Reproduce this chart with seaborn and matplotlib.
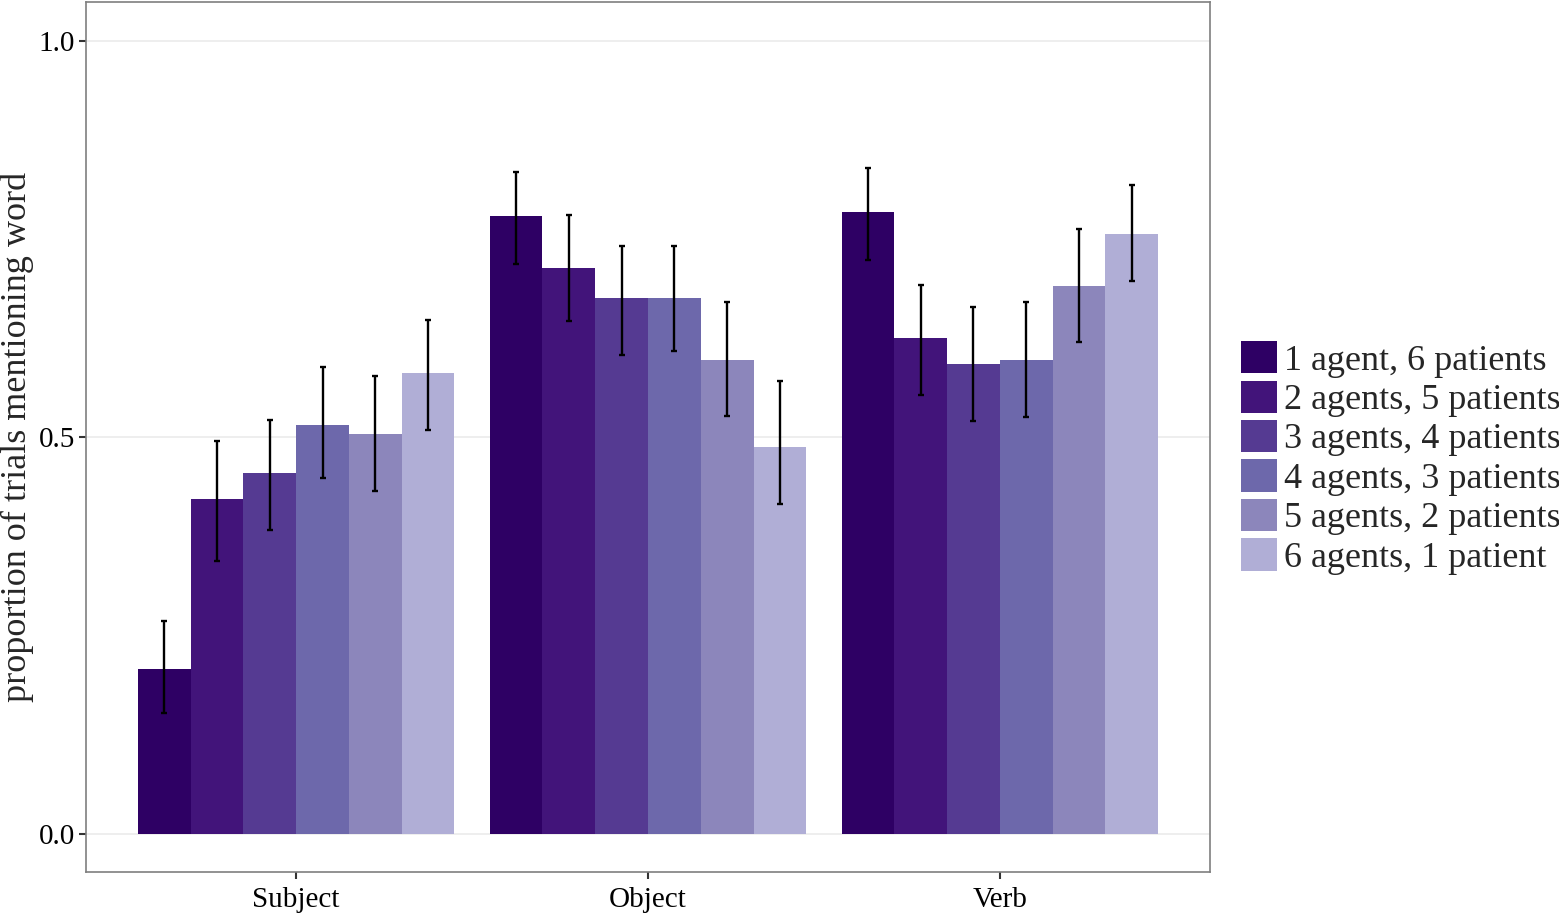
import numpy as np
import pandas as pd
import matplotlib
matplotlib.use('Agg')
import matplotlib.pyplot as plt
import seaborn as sns

# Data
words = ['Subject', 'Object', 'Verb']
conditions = ['1 agent, 6 patients', '2 agents, 5 patients',
              '3 agents, 4 patients', '4 agents, 3 patients',
              '5 agents, 2 patients', '6 agents, 1 patient']
colors = ['#2e0064', '#42147a', '#553a92', '#6d68ab', '#8c86bb', '#b0aed6']

subject_mean = [0.208, 0.422, 0.455, 0.516, 0.504, 0.581]
subject_lo = [0.153, 0.344, 0.383, 0.449, 0.433, 0.509]
subject_hi = [0.269, 0.496, 0.522, 0.589, 0.578, 0.648]

object_mean = [0.779, 0.714, 0.676, 0.676, 0.598, 0.488]
object_lo = [0.719, 0.647, 0.604, 0.609, 0.527, 0.416]
object_hi = [0.835, 0.781, 0.741, 0.741, 0.671, 0.571]

verb_mean = [0.784, 0.625, 0.593, 0.598, 0.691, 0.757]
verb_lo = [0.724, 0.554, 0.521, 0.526, 0.620, 0.697]
verb_hi = [0.840, 0.692, 0.665, 0.671, 0.763, 0.818]

rows = []
for w, m, lo, hi in [('Subject', subject_mean, subject_lo, subject_hi),
                     ('Object', object_mean, object_lo, object_hi),
                     ('Verb', verb_mean, verb_lo, verb_hi)]:
    for c, mv, l, h in zip(conditions, m, lo, hi):
        rows.append({'word': w, 'cond': c, 'prop': mv, 'lo': l, 'hi': h})
df = pd.DataFrame(rows)

sns.set_style('white')
plt.rcParams['font.family'] = ['Liberation Serif', 'DejaVu Serif']

fig = plt.figure(figsize=(15.59, 9.14), dpi=100)
ax = fig.add_axes([0.0552, 0.046, 0.7209, 0.9518])

ax.grid(True, color='#ebebeb', lw=1.2, zorder=0)
ax.set_axisbelow(True)

sns.barplot(data=df, x='word', y='prop', hue='cond', order=words,
            hue_order=conditions, palette=colors, width=0.9, gap=0,
            errorbar=None, saturation=1, linewidth=0, ax=ax, zorder=2)

# error bars at the bar centres
for cond, cont in zip(conditions, ax.containers):
    sub = df[df['cond'] == cond].set_index('word').loc[words]
    xs = [p.get_x() + p.get_width() / 2 for p in cont.patches]
    ys = sub['prop'].values
    yerr = [ys - sub['lo'].values, sub['hi'].values - ys]
    ax.errorbar(xs, ys, yerr=yerr, fmt='none', ecolor='black',
                elinewidth=1.7, capsize=2.5, capthick=1.7, zorder=3)

ax.set_xlim(-0.597, 2.597)
ax.set_ylim(-0.048, 1.049)
ax.set_yticks([0.0, 0.5, 1.0])
ax.set_yticklabels(['0.0', '0.5', '1.0'])
ax.tick_params(axis='both', labelsize=21, length=5, width=1.5,
               color='#333333', labelcolor='black', direction='out',
               bottom=True, left=True)
ax.tick_params(axis='x', pad=6)
ax.tick_params(axis='y', pad=3)
ax.set_xlabel('')
ax.set_ylabel('proportion of trials mentioning word', fontsize=26)
ax.yaxis.set_label_coords(-0.046, 0.5)
for s in ax.spines.values():
    s.set_color('#7f7f7f')
    s.set_linewidth(1.2)

h, l = ax.get_legend_handles_labels()
ax.legend(h, l, loc='center left', bbox_to_anchor=(0.796, 0.499),
          bbox_transform=fig.transFigure, frameon=False, fontsize=26,
          handlelength=1.0, handleheight=1.0, handletextpad=0.2,
          labelspacing=0.08, borderaxespad=0, borderpad=0)

fig.savefig('out.png', dpi=100)
